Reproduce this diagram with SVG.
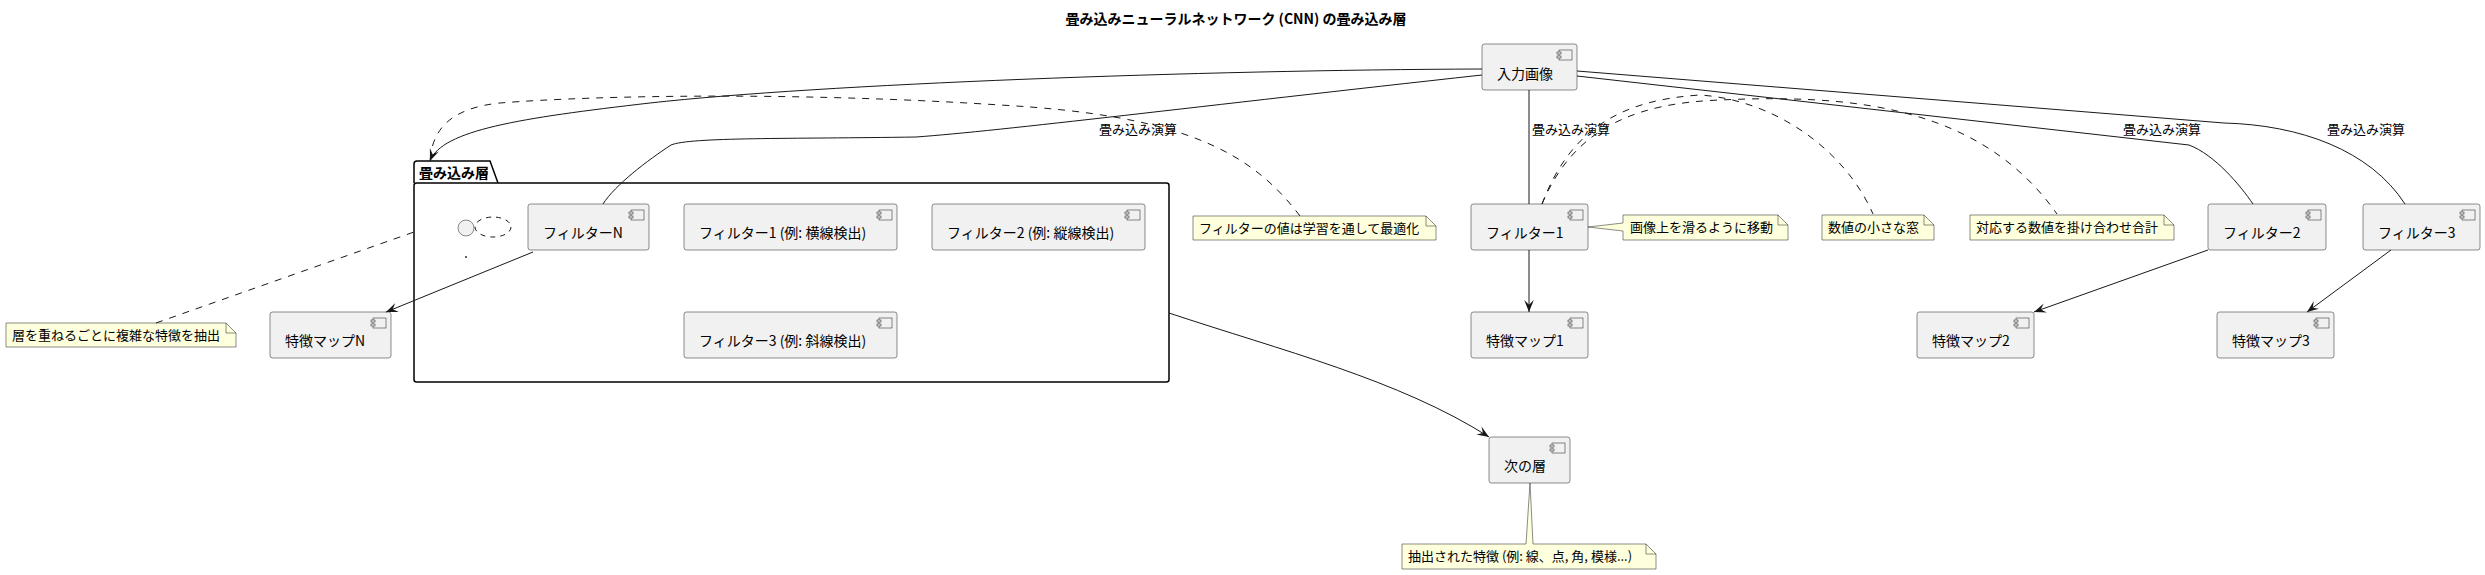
<svg xmlns="http://www.w3.org/2000/svg" width="2485" height="575" viewBox="0 0 2485 575">
<style>
text{font-family:"Noto Sans CJK JP","Liberation Sans",sans-serif;fill:#000}
.t{font-size:14px;font-weight:bold}
.c{font-size:14px}
.n{font-size:13px}
.l{font-size:13px}
.box{fill:#F1F1F1;stroke:#181818;stroke-width:0.5}
.ic{fill:#F1F1F1;stroke:#181818;stroke-width:0.5}
.note{fill:#FEFFDD;stroke:#181818;stroke-width:0.5}
.fold{fill:none;stroke:#181818;stroke-width:0.5}
.e{fill:none;stroke:#181818;stroke-width:1}
.d{fill:none;stroke:#181818;stroke-width:1;stroke-dasharray:7,7}
</style>
<defs>
<marker id="ah" markerUnits="userSpaceOnUse" markerWidth="12" markerHeight="10" viewBox="0 0 10 8" refX="10" refY="4" orient="auto">
<path d="M0,0 L10,4 L0,8 L4,4 Z" fill="#181818"/>
</marker>
<g id="icon">
<rect x="-18" y="6" width="13" height="10" class="ic"/>
<rect x="-20" y="8" width="4" height="2" class="ic"/>
<rect x="-20" y="12" width="4" height="2" class="ic"/>
</g>
</defs>

<text class="t" x="1236" y="24" text-anchor="middle">畳み込みニューラルネットワーク (CNN) の畳み込み層</text>

<g id="pkg">
<path d="M414,183 L414,164 Q414,161 417,161 L490,161 L498,183" fill="none" stroke="#000" stroke-width="1.5"/>
<rect x="414" y="183" width="755" height="199" rx="2.5" fill="none" stroke="#000" stroke-width="1.5"/>
<text class="t" x="419" y="178">畳み込み層</text>
<circle cx="466" cy="228" r="8" class="box"/>
<ellipse cx="493" cy="227" rx="18" ry="10" fill="none" stroke="#181818" stroke-width="1" stroke-dasharray="5,5"/>
<circle cx="466" cy="257" r="0.9" fill="#181818"/>
</g>

<g id="n_input"><rect x="1482" y="44" width="95" height="46" rx="2.5" class="box"/><use href="#icon" x="1577" y="44"/><text class="c" x="1497" y="79">入力画像</text></g>
<g id="n_filterN"><rect x="528" y="204" width="121" height="46" rx="2.5" class="box"/><use href="#icon" x="649" y="204"/><text class="c" x="543" y="238">フィルターN</text></g>
<g id="n_f1ex"><rect x="684" y="204" width="213" height="46" rx="2.5" class="box"/><use href="#icon" x="897" y="204"/><text class="c" x="699" y="238">フィルター1 (例: 横線検出)</text></g>
<g id="n_f2ex"><rect x="932" y="204" width="213" height="46" rx="2.5" class="box"/><use href="#icon" x="1145" y="204"/><text class="c" x="947" y="238">フィルター2 (例: 縦線検出)</text></g>
<g id="n_f3ex"><rect x="684" y="312" width="213" height="46" rx="2.5" class="box"/><use href="#icon" x="897" y="312"/><text class="c" x="699" y="346">フィルター3 (例: 斜線検出)</text></g>
<g id="n_fmapN"><rect x="270" y="312" width="121" height="46" rx="2.5" class="box"/><use href="#icon" x="391" y="312"/><text class="c" x="285" y="346">特徴マップN</text></g>
<g id="n_filter1"><rect x="1471" y="204" width="117" height="46" rx="2.5" class="box"/><use href="#icon" x="1588" y="204"/><text class="c" x="1486" y="238">フィルター1</text></g>
<g id="n_filter2"><rect x="2208" y="204" width="118" height="46" rx="2.5" class="box"/><use href="#icon" x="2326" y="204"/><text class="c" x="2223" y="238">フィルター2</text></g>
<g id="n_filter3"><rect x="2363" y="204" width="117" height="46" rx="2.5" class="box"/><use href="#icon" x="2480" y="204"/><text class="c" x="2378" y="238">フィルター3</text></g>
<g id="n_fmap1"><rect x="1471" y="312" width="117" height="46" rx="2.5" class="box"/><use href="#icon" x="1588" y="312"/><text class="c" x="1486" y="346">特徴マップ1</text></g>
<g id="n_fmap2"><rect x="1917" y="312" width="117" height="46" rx="2.5" class="box"/><use href="#icon" x="2034" y="312"/><text class="c" x="1932" y="346">特徴マップ2</text></g>
<g id="n_fmap3"><rect x="2217" y="312" width="117" height="46" rx="2.5" class="box"/><use href="#icon" x="2334" y="312"/><text class="c" x="2232" y="346">特徴マップ3</text></g>
<g id="n_next"><rect x="1489" y="437" width="81" height="46" rx="2.5" class="box"/><use href="#icon" x="1570" y="437"/><text class="c" x="1504" y="471">次の層</text></g>

<g id="notes">
<g id="note_layers"><path d="M6,323 L226,323 L236,333 L236,347 L6,347 Z" class="note"/><path d="M226,323 L226,333 L236,333" class="fold"/><text class="n" x="12" y="340">層を重ねるごとに複雑な特徴を抽出</text></g>
<g id="note_values"><path d="M1193,216 L1426,216 L1436,226 L1436,240 L1193,240 Z" class="note"/><path d="M1426,216 L1426,226 L1436,226" class="fold"/><text class="n" x="1199" y="233">フィルターの値は学習を通して最適化</text></g>
<g id="note_slide"><path d="M1623,215 L1778,215 L1788,225 L1788,240 L1623,240 L1623,231 L1588,227 L1623,223 Z" class="note"/><path d="M1778,215 L1778,225 L1788,225" class="fold"/><text class="n" x="1630" y="232">画像上を滑るように移動</text></g>
<g id="note_window"><path d="M1822,215 L1924,215 L1934,225 L1934,240 L1822,240 Z" class="note"/><path d="M1924,215 L1924,225 L1934,225" class="fold"/><text class="n" x="1828" y="232">数値の小さな窓</text></g>
<g id="note_sum"><path d="M1970,215 L2164,215 L2174,225 L2174,240 L1970,240 Z" class="note"/><path d="M2164,215 L2164,225 L2174,225" class="fold"/><text class="n" x="1976" y="232">対応する数値を掛け合わせ合計</text></g>
<g id="note_feat"><path d="M1402,544 L1526,544 L1530,483 L1533,544 L1646,544 L1656,554 L1656,569 L1402,569 Z" class="note"/><path d="M1646,544 L1646,554 L1656,554" class="fold"/><text class="n" x="1408" y="561">抽出された特徴 (例: 線、点, 角, 模様...)</text></g>
</g>

<g id="connectors">
<path class="e" d="M1482,69 C1200,70 820,84 650,103 C520,118 442,130 430,161" marker-end="url(#ah)"/>
<path class="e" d="M1482,75 C1200,106 1000,131 916,137 C790,139 690,137 671,145 C648,160 615,185 603,204"/>
<text class="l" x="1099" y="134">畳み込み演算</text>
<path class="e" d="M1529,90 L1529,204"/>
<text class="l" x="1532" y="134">畳み込み演算</text>
<path class="e" d="M1577,76 L2189,145 C2215,155 2240,185 2253,204"/>
<text class="l" x="2123" y="134">畳み込み演算</text>
<path class="e" d="M1577,71 L2224,123 C2300,125 2370,150 2405,204"/>
<text class="l" x="2327" y="134">畳み込み演算</text>
<path class="e" d="M1529,250 L1529,312" marker-end="url(#ah)"/>
<path class="e" d="M2208,250 L2034,312" marker-end="url(#ah)"/>
<path class="e" d="M2391,250 L2307,312" marker-end="url(#ah)"/>
<path class="e" d="M533,252 L386,312" marker-end="url(#ah)"/>
<path class="e" d="M1169,313 C1280,350 1400,380 1489,437" marker-end="url(#ah)"/>
<path class="d" d="M156,323 L414,232"/>
<path class="d" d="M1300,216 C1250,150 1180,115 1000,105 C800,92 600,95 500,103 C450,108 432,130 430,161"/>
<path class="d" d="M1542,204 C1570,130 1620,100 1700,95 C1775,100 1845,150 1873,214"/>
<path class="d" d="M1542,204 C1575,125 1640,103 1720,100 C1850,94 1980,105 2057,214"/>
</g>
</svg>
